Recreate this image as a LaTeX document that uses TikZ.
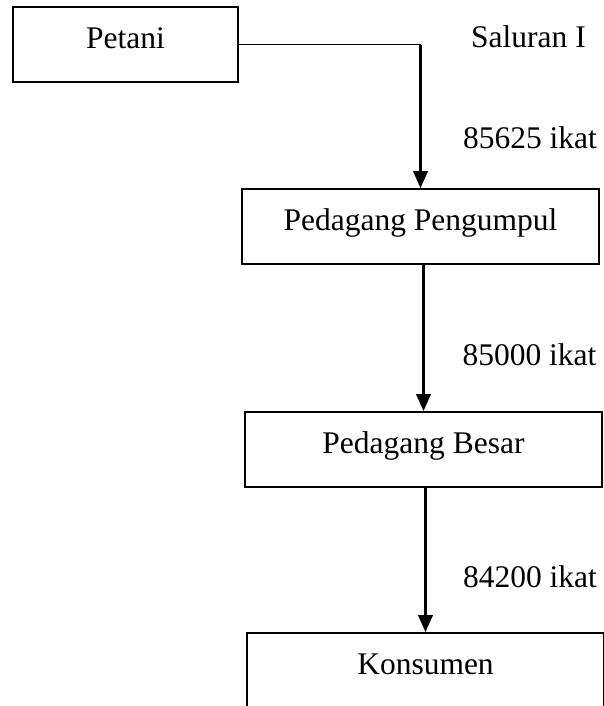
\documentclass[tikz,border=0pt]{standalone}
\usepackage{fontspec}
\setmainfont{Liberation Serif}
\usetikzlibrary{arrows.meta}

\def\px{0.381pt}
\tikzset{
  box/.style={draw, line width=0.7pt, inner sep=0pt,
    minimum width=357*\px, minimum height=75*\px,
    text height=9pt, text depth=6.3pt},
  flow/.style={line width=0.95pt, -{Triangle[length=6.5pt, width=5.5pt]}},
  link/.style={line width=0.6pt},
  amount/.style={anchor=base, inner sep=0pt},
}

\begin{document}
\begin{tikzpicture}[x=\px, y=-\px, font=\fontsize{12}{14}\selectfont]
  \useasboundingbox (0,0) rectangle (604,706);
  \clip (0,0) rectangle (604,706);

  % boxes
  \node[box, minimum width=225*\px] (petani) at (125.5, 44.5) {Petani};
  \node[box] (pengumpul) at (420.5, 226.5) {Pedagang Pengumpul};
  \node[box] (besar) at (423.5, 449.5) {Pedagang Besar};
  \node[box] (konsumen) at (425.5, 670.5) {Konsumen};

  % connectors
  \coordinate (bend) at (pengumpul.north |- petani.east);
  \draw[link] (petani.east) -- (bend);
  \draw[flow] (bend) -- (pengumpul.north);
  \draw[flow] (besar.north |- pengumpul.south) -- (besar.north);
  \draw[flow] (konsumen.north |- besar.south) -- (konsumen.north);

  % labels
  \node[amount] (saluran) at (528.5, 47) {Saluran I};
  \node[amount] (qty1) at (530, 148) {85625 ikat};
  \node[amount] (qty2) at (529.5, 365) {85000 ikat};
  \node[amount] (qty3) at (530, 587) {84200 ikat};
\end{tikzpicture}
\end{document}
